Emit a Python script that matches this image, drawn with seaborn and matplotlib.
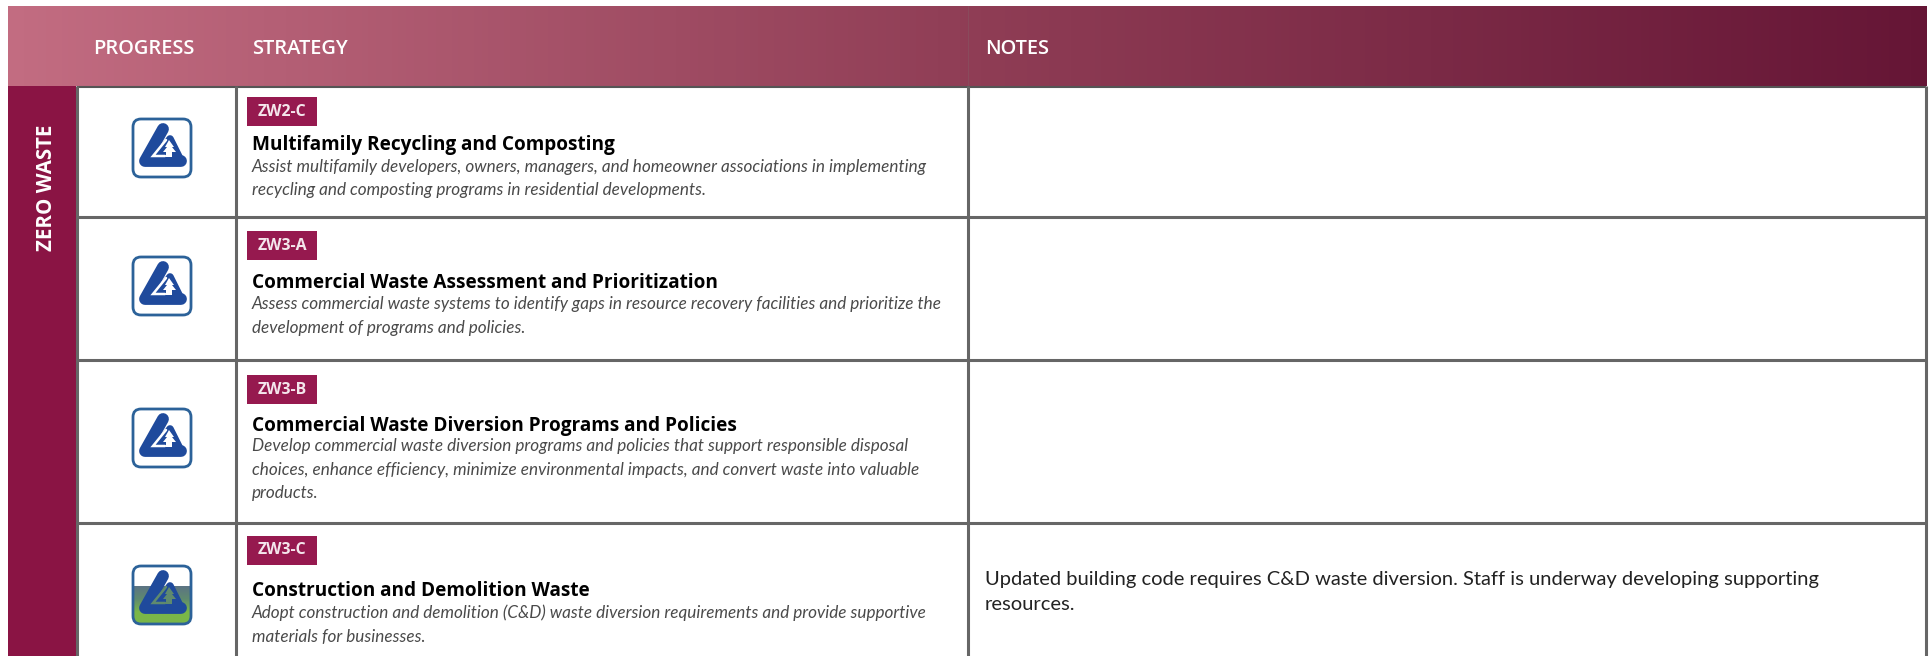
import numpy as np
import seaborn as sns
import matplotlib.pyplot as plt
from matplotlib.patches import Rectangle, FancyBboxPatch

headers = ['PROGRESS', 'STRATEGY', 'NOTES']
section = 'ZERO WASTE'
codes = ['ZW2-C', 'ZW3-A', 'ZW3-B', 'ZW3-C']
titles = ['Multifamily Recycling and Composting',
          'Commercial Waste Assessment and Prioritization',
          'Commercial Waste Diversion Programs and Policies',
          'Construction and Demolition Waste']
descriptions = [
    ['Assist multifamily developers, owners, managers, and homeowner associations in implementing',
     'recycling and composting programs in residential developments.'],
    ['Assess commercial waste systems to identify gaps in resource recovery facilities and prioritize the',
     'development of programs and policies.'],
    ['Develop commercial waste diversion programs and policies that support responsible disposal',
     'choices, enhance efficiency, minimize environmental impacts, and convert waste into valuable',
     'products.'],
    ['Adopt construction and demolition (C&D) waste diversion requirements and provide supportive',
     'materials for businesses.'],
]
notes = [[], [], [],
         ['Updated building code requires C&D waste diversion. Staff is underway developing supporting',
          'resources.']]
progress = [0, 0, 0, 1]

# layout, in pixels of the 1933x656 picture
W, H = 1933, 656
row_edges = [86, 217, 360, 523, 656]
col_edges = [77, 236, 968, 1926]
tag_tops = [97, 231, 375, 536]
title_ys = [145, 283, 426, 591]
desc_ys = [167, 304, 446, 613]
icon_ys = [148, 286, 438, 595]
notes_ys = [0, 0, 0, 580]

GREY = '#666666'
WINE = '#8a1444'
TAG = '#96194f'
BLUE = '#1f4a9c'
EDGE = '#2c6299'

sns.set_theme(style='white')
plt.rcParams['font.family'] = ['Open Sans', 'DejaVu Sans']

fig = plt.figure(figsize=(W / 100, H / 100), dpi=100, facecolor='white')
ax = fig.add_axes([0, 0, 1, 1])
ax.set_xlim(0, W)
ax.set_ylim(H, 0)
ax.axis('off')

# header band
head_ax = fig.add_axes([8 / W, 1 - 86 / H, (W - 8 - 6) / W, 80 / H])
ramp = sns.blend_palette(['#c26c81', '#8f3d55', '#651535'], as_cmap=True)
sns.heatmap(np.linspace(0, 1, 960).reshape(1, -1), cmap=ramp, cbar=False,
            xticklabels=False, yticklabels=False, ax=head_ax)
head_ax.axis('off')
ax.plot([968, 968], [6, 86], color='#8a4a5c', lw=0.8)
ax.set_zorder(head_ax.get_zorder() + 1)
ax.patch.set_alpha(0)

for name, x in zip(headers, [93, 252, 985]):
    ax.text(x, 49, name, color='white', fontsize=14.4, fontweight='semibold',
            va='center', ha='left')

# section side bar
ax.add_patch(Rectangle((8, 86), 68, H - 86, color=WINE, lw=0))
ax.text(47, 188, section, color='white', fontsize=14.8, fontweight='bold',
        rotation=90, va='center', ha='center')

# grid
for y in row_edges[1:-1]:
    ax.plot([col_edges[0], col_edges[-1]], [y, y], color=GREY, lw=2.2, solid_capstyle='butt')
ax.plot([col_edges[0], col_edges[-1]], [86.5, 86.5], color='#555555', lw=1.5, solid_capstyle='butt')
for x in col_edges:
    ax.plot([x, x], [86, H], color=GREY, lw=2.2, solid_capstyle='butt')


def draw_icon(cx, cy, level):
    box = FancyBboxPatch((cx - 29, cy - 29), 58, 58, boxstyle='round,pad=0,rounding_size=8',
                         fc='white', ec='none', zorder=3)
    ax.add_patch(box)
    gap = 'white'
    if level:
        gap = '#5f8a6e'
        fill_cmap = sns.blend_palette(['#5c7484', '#5f8a6e', '#7ab648', '#7ab648'], as_cmap=True)
        im = ax.imshow(np.linspace(0, 1, 50).reshape(-1, 1), cmap=fill_cmap, aspect='auto',
                       extent=(cx - 30, cx + 30, cy + 30, cy - 9), zorder=3.1)
        im.set_clip_path(box)
    ax.add_patch(FancyBboxPatch((cx - 29, cy - 29), 58, 58, boxstyle='round,pad=0,rounding_size=8',
                                fc='none', ec=EDGE, lw=2, zorder=4))
    # triangle mark: heavy left stroke, base and thinner right stroke around a solid core
    ax.fill([cx - 9, cx + 8, cx + 19], [cy + 10, cy - 9, cy + 13], color=BLUE, lw=0, zorder=4)
    ax.plot([cx + 1, cx - 17, cx + 19], [cy - 19, cy + 13, cy + 13], color=BLUE, lw=8.5,
            solid_capstyle='round', solid_joinstyle='round', zorder=4)
    ax.plot([cx + 19, cx + 8, cx - 3], [cy + 13, cy - 9, cy + 6], color=BLUE, lw=5.5,
            solid_capstyle='round', solid_joinstyle='round', zorder=4)
    # gap line and small tree
    ax.plot([cx + 4, cx - 9, cx + 3], [cy - 8, cy + 8, cy + 8], color=gap, lw=1.8,
            solid_joinstyle='miter', zorder=4.2)
    ax.fill([cx + 7, cx + 3, cx + 5, cx + 1, cx + 4, cx + 4, cx + 10, cx + 10, cx + 14, cx + 10, cx + 12],
            [cy - 8, cy - 1, cy - 1, cy + 4, cy + 4, cy + 9, cy + 9, cy + 4, cy + 4, cy - 1, cy - 1],
            color=gap, lw=0, zorder=4.2)


for i, code in enumerate(codes):
    ax.add_patch(Rectangle((247, tag_tops[i]), 70, 29, color=TAG, lw=0))
    ax.text(282, tag_tops[i] + 14.5, code, color='#f4e6ec', fontsize=11.4, fontweight='bold',
            va='center', ha='center')
    ax.text(252, title_ys[i], titles[i], color='black', fontsize=13.7, fontweight='bold',
            va='center', ha='left')
    for j, line in enumerate(descriptions[i]):
        ax.text(252, desc_ys[i] + j * 23.5, line, color='#4a4a4a', fontsize=12.35, style='italic',
                family=['Lato', 'DejaVu Sans'], fontweight='normal', va='center', ha='left')
    for j, line in enumerate(notes[i]):
        ax.text(985, notes_ys[i] + j * 24, line, color='#222222', fontsize=14.5,
                family=['Lato', 'DejaVu Sans'], va='center', ha='left')
    draw_icon(162, icon_ys[i], progress[i])

ax.set_xlim(0, W)
ax.set_ylim(H, 0)
fig.savefig('out.png', dpi=100, facecolor='white')
